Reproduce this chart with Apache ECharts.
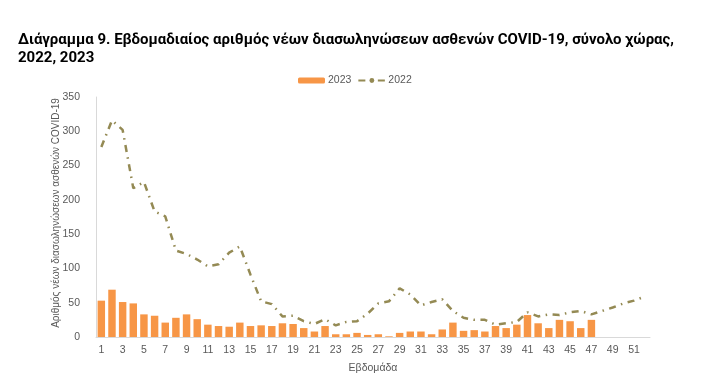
<!DOCTYPE html>
<html>
<head>
<meta charset="utf-8">
<script src="https://cdn.jsdelivr.net/npm/echarts@6/dist/echarts.min.js"></script>
<style>
html,body{margin:0;padding:0;background:#fff;}
#c{width:727px;height:380px;}
</style>
</head>
<body>
<div id="c"></div>
<script>
var weeks = [];
for (var w = 1; w <= 52; w++) weeks.push(String(w));

var values2023 = [53, 69, 51, 49, 33, 31, 21, 28, 33, 26,
                  18, 16, 15, 21, 16, 17, 16, 20, 19, 13,
                  8, 16, 4, 4, 6, 3, 4, 1, 6, 8,
                  8, 4, 11, 21, 9, 10, 8, 16, 13, 18,
                  32, 20, 13, 25, 23, 13, 25];

var values2022 = [277, 316, 302, 217, 226, 183, 176, 126, 121, 113,
                  103, 106, 123, 132, 91, 52, 48, 30, 31, 23,
                  19, 26, 17, 22, 23, 34, 49, 52, 71, 62,
                  46, 51, 55, 38, 28, 25, 25, 18, 20, 22,
                  36, 30, 33, 32, 36, 38, 33, 38, 43, 49,
                  53, 59];

var yTicks = [0, 50, 100, 150, 200, 250, 300, 350];

var titleText = 'Διάγραμμα 9. Εβδομαδιαίος αριθμός νέων διασωληνώσεων ασθενών COVID-19, σύνολο χώρας,\n2022, 2023';
var yName = 'Αριθμός νέων διασωληνώσεων ασθενών COVID-19';
var xName = 'Εβδομάδα';

var chart = echarts.init(document.getElementById('c'), null, {renderer: 'canvas'});
var labelFont = "'Liberation Sans', sans-serif";
chart.setOption({
  animation: false,
  backgroundColor: '#ffffff',
  title: {
    text: titleText,
    left: 13,
    top: 26,
    textStyle: {
      fontFamily: "Roboto, sans-serif",
      fontWeight: 'bold',
      fontSize: 15,
      color: '#000000',
      lineHeight: 18
    }
  },
  legend: {
    data: ['2023', '2022'],
    left: 293,
    top: 70,
    itemWidth: 27,
    itemHeight: 6,
    itemGap: 6,
    textStyle: {fontFamily: labelFont, fontSize: 10.5, color: '#595959', padding: [0, 0, 0, -2]}
  },
  grid: {left: 96, right: 77, top: 97, bottom: 43, containLabel: false},
  xAxis: {
    type: 'category',
    data: weeks,
    boundaryGap: true,
    name: xName,
    nameLocation: 'middle',
    nameGap: 26,
    nameMoveOverlap: false,
    nameTextStyle: {fontFamily: labelFont, fontSize: 10.5, color: '#595959'},
    axisLine: {show: true, lineStyle: {color: '#D9D9D9', width: 1}},
    axisTick: {show: false},
    axisLabel: {interval: 1, margin: 8, fontFamily: labelFont, fontSize: 10.5, color: '#595959'},
    splitLine: {show: false}
  },
  yAxis: {
    type: 'value',
    min: yTicks[0],
    max: yTicks[yTicks.length - 1],
    interval: 50,
    name: yName,
    nameLocation: 'middle',
    nameGap: 35,
    nameMoveOverlap: false,
    nameTextStyle: {fontFamily: labelFont, fontSize: 10, color: '#595959', padding: [0, 0, 0, 8]},
    axisLine: {show: true, lineStyle: {color: '#D9D9D9', width: 1}},
    axisTick: {show: false},
    axisLabel: {margin: 16, fontFamily: labelFont, fontSize: 10.5, color: '#595959'},
    splitLine: {show: false}
  },
  series: [
    {
      name: '2023',
      type: 'bar',
      data: values2023,
      barWidth: '70%',
      itemStyle: {color: '#F79646'},
      z: 2
    },
    {
      name: '2022',
      type: 'line',
      data: values2022,
      symbol: 'none',
      showSymbol: false,
      smooth: false,
      lineStyle: {color: '#948A54', width: 2.5, type: [7, 5.5, 1.5, 5.5], cap: 'butt'},
      itemStyle: {color: '#948A54'},
      z: 3
    }
  ]
});
</script>
</body>
</html>
